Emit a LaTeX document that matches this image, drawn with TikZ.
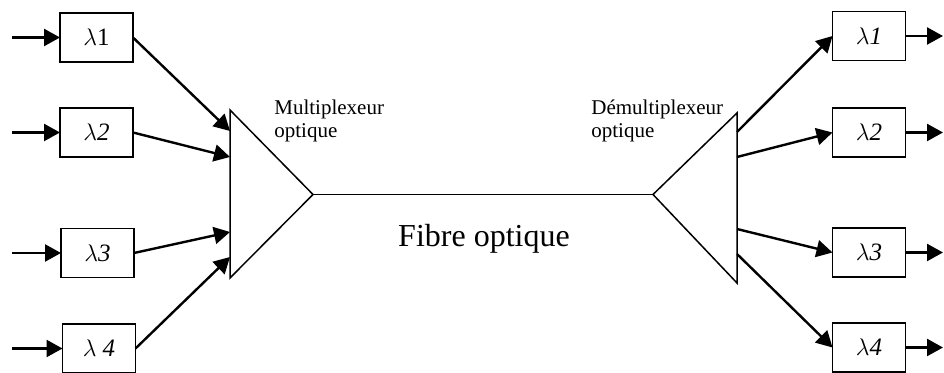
\documentclass[tikz,border=0pt]{standalone}
\usepackage{fontspec}
\setmainfont{Liberation Serif}
\usetikzlibrary{arrows.meta}

\begin{document}
\begin{tikzpicture}[x=0.5pt, y=-0.5pt]
    % --- Dimensions (pixel grid, y grows downward) ---
    \def\BoxW{36.5pt}    % width of a wavelength box
    \def\BoxH{24.5pt}    % height of a wavelength box
    \def\MuxX{230}       % flat side of the multiplexer
    \def\DemuxX{737}     % flat side of the demultiplexer
    \def\FibreY{194.5}   % height of the fibre

    % --- Styles ---
    \tikzset{
        lambda box/.style={
            draw=black,
            line width=0.9pt,
            minimum width=\BoxW,
            minimum height=\BoxH,
            inner sep=0pt,
            outer sep=0pt,
            font=\fontsize{12.5}{14}\selectfont
        },
        signal/.style={
            line width=1.2pt,
            -{Triangle[length=8pt, width=8.5pt]}
        },
        coupler/.style={line width=0.75pt, line join=miter},
        small label/.style={
            font=\fontsize{10.5}{11.5}\selectfont,
            align=left,
            inner sep=0pt,
            anchor=north west
        },
        big label/.style={font=\fontsize{16}{19}\selectfont, inner sep=0pt, anchor=base}
    }

    \useasboundingbox (0,0) rectangle (944,373);

    % =========================================================
    % 1. INPUT WAVELENGTHS
    % =========================================================
    \node[lambda box] (l1) at (96.5,37.5)  {$\lambda$1};
    \node[lambda box] (l2) at (96.5,132.5) {$\lambda$\textit{2}};
    \node[lambda box] (l3) at (97.5,253)   {$\lambda$\textit{3}};
    \node[lambda box] (l4) at (99,348.5)   {$\lambda$ \textit{4}};

    \foreach \i/\y in {1/37.5, 2/132.5, 3/253, 4/348.5} {
        \coordinate (in\i) at (12,\y);
        \draw[signal] (in\i) -- (l\i);
    }

    % =========================================================
    % 2. MULTIPLEXER
    % =========================================================
    \coordinate (muxT) at (\MuxX,110);
    \coordinate (muxB) at (\MuxX,278);
    \coordinate (muxO) at (313,\FibreY);
    \draw[coupler] (muxT) -- (muxO) -- (muxB) -- cycle;

    \foreach \i/\y in {1/131, 2/157, 3/232, 4/257} {
        \coordinate (mux\i) at (\MuxX,\y);
        \draw[signal] (l\i.east) -- (mux\i);
    }

    % =========================================================
    % 3. FIBRE AND DEMULTIPLEXER
    % =========================================================
    \coordinate (demT) at (\DemuxX,113);
    \coordinate (demB) at (\DemuxX,283);
    \coordinate (demI) at (653,\FibreY);
    \draw[coupler] (demT) -- (demI) -- (demB) -- cycle;

    % the fibre itself
    \draw[coupler] (muxO) -- (demI);

    % =========================================================
    % 4. OUTPUT WAVELENGTHS
    % =========================================================
    \node[lambda box] (r1) at (869,36)    {$\lambda$\textit{1}};
    \node[lambda box] (r2) at (869,132.5) {$\lambda$\textit{2}};
    \node[lambda box] (r3) at (869,252.5) {$\lambda$\textit{3}};
    \node[lambda box] (r4) at (869,347.5) {$\lambda$\textit{4}};

    \foreach \i/\y/\t in {1/132/36, 2/157/132.5, 3/229/252.5, 4/254/347.5} {
        \coordinate (dem\i) at (\DemuxX,\y);
        \coordinate (out\i) at (943,\t);
        \draw[signal] (dem\i) -- (r\i.west);
        \draw[signal] (r\i) -- (out\i);
    }

    % =========================================================
    % 5. TEXT
    % =========================================================
    \node[small label] (muxlbl) at (274,99.5) {Multiplexeur\\optique};
    \node[small label] (demlbl) at (591,99.5) {Démultiplexeur\\optique};
    \node[big label] (fibrelbl) at (484,247) {Fibre optique};

\end{tikzpicture}
\end{document}
